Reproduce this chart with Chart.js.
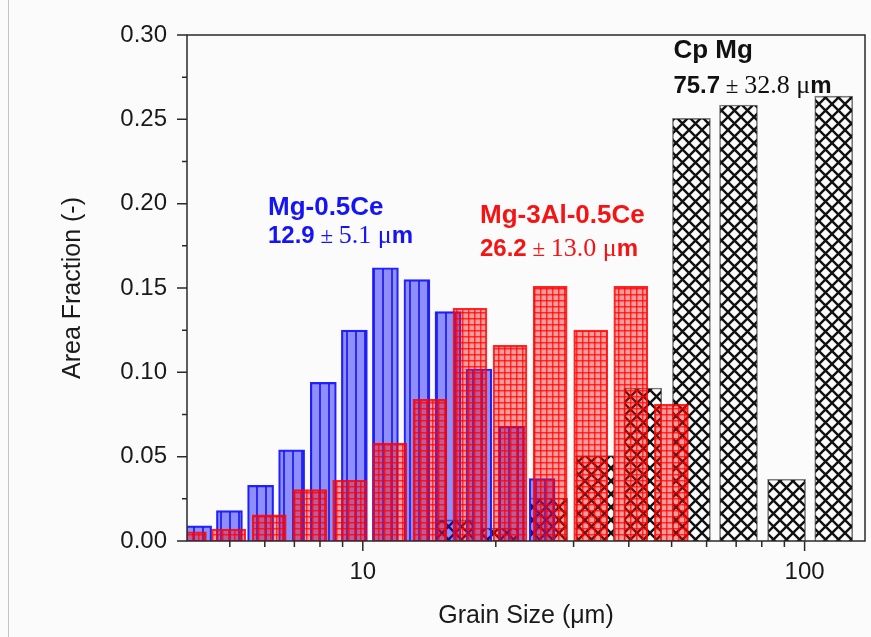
<!DOCTYPE html>
<html>
<head>
<meta charset="utf-8">
<script src="https://cdn.jsdelivr.net/npm/chart.js@4/dist/chart.umd.min.js"></script>
<style>
    body { margin: 0; background: #fbfbfb; }
    #caja { position: relative; width: 871px; height: 637px; }
    #caja::before { content: ""; position: absolute; left: 8px; top: 0; bottom: 0; border-left: 1px solid #c4c4c4; }
</style>
</head>
<body>
<div id="caja"><canvas id="grafica"></canvas></div>
<script>
// tamaño de grano (um) y fracción de área
const tamCe = [4.25, 4.99, 5.87, 6.9, 8.14, 9.57, 11.25, 13.26, 15.59, 18.32, 21.71, 25.46];
const fracCe = [0.009, 0.018, 0.033, 0.054, 0.094, 0.125, 0.162, 0.155, 0.136, 0.102, 0.068, 0.037];

const tamAlCe = [4.05, 4.97, 6.14, 7.59, 9.34, 11.51, 14.19, 17.48, 21.54, 26.55, 32.8, 40.42, 49.94];
const fracAlCe = [0.0055, 0.007, 0.0155, 0.0305, 0.036, 0.058, 0.084, 0.138, 0.116, 0.151, 0.125, 0.151, 0.081];

const tamCp = [16.08, 20.39, 26.34, 33.58, 43.03, 55.44, 70.86, 91.03, 116.4];
const fracCp = [0.0125, 0.0077, 0.0255, 0.0506, 0.0907, 0.2506, 0.2585, 0.0366, 0.2638];

const xEtiquetas = [10, 100];
const xMenores = [5, 6, 7, 8, 9, 20, 30, 40, 50, 60, 70, 80, 90];
const yEtiquetas = [0, 0.05, 0.10, 0.15, 0.20, 0.25, 0.30];
const yMenores = [0.025, 0.075, 0.125, 0.175, 0.225, 0.275];

const textos = [
    { titulo: "Mg-0.5Ce", media: "12.9", desv: "5.1", color: "#1414f5", x: 6.1, y: 0.1933, y2: 0.1767 },
    { titulo: "Mg-3Al-0.5Ce", media: "26.2", desv: "13.0", color: "#f51414", x: 18.42, y: 0.1885, y2: 0.169 },
    { titulo: "Cp Mg", media: "75.7", desv: "32.8", color: "#111111", x: 50.47, y: 0.2864, y2: 0.2656 }
];

const SANS = "'Liberation Sans', Arial, sans-serif";
const SERIF = "'Liberation Serif', 'Times New Roman', serif";

function patron(lado, dibujar) {
    const c = document.createElement("canvas");
    c.width = lado;
    c.height = lado;
    const g = c.getContext("2d");
    dibujar(g, lado);
    return g.createPattern(c, "repeat");
}

const rayasAzules = patron(9, (g, n) => {
    g.fillStyle = "rgba(20,20,255,0.47)";
    g.fillRect(0, 0, n, n);
    g.fillStyle = "rgba(20,20,235,0.8)";
    g.fillRect(4, 0, 2, n);
});

const cuadrosRojos = patron(6, (g, n) => {
    g.fillStyle = "rgba(255,20,20,0.42)";
    g.fillRect(0, 0, n, n);
    g.fillStyle = "rgba(255,0,0,0.72)";
    g.fillRect(0, 0, n, 1.5);
    g.fillRect(0, 0, 1.5, n);
});

const cruces = patron(13, (g, n) => {
    g.strokeStyle = "#111";
    g.lineWidth = 2.4;
    g.beginPath();
    g.moveTo(-1, -1); g.lineTo(n + 1, n + 1);
    g.moveTo(-1, n + 1); g.lineTo(n + 1, -1);
    g.stroke();
});

function puntos(xs, ys) {
    return xs.map((x, i) => ({ x: x, y: ys[i] }));
}

const marco = {
    id: "marco",
    afterDraw(chart) {
        const { ctx, chartArea: a, scales: { x, y } } = chart;
        ctx.save();
        ctx.strokeStyle = "#2a2a2a";
        ctx.lineWidth = 1.5;
        ctx.strokeRect(a.left, a.top, a.right - a.left, a.bottom - a.top);

        ctx.beginPath();
        for (const v of yEtiquetas) {
            const p = y.getPixelForValue(v);
            ctx.moveTo(a.left - 10, p); ctx.lineTo(a.left, p);
        }
        for (const v of yMenores) {
            const p = y.getPixelForValue(v);
            ctx.moveTo(a.left - 5, p); ctx.lineTo(a.left, p);
        }
        for (const v of xEtiquetas) {
            const p = x.getPixelForValue(v);
            ctx.moveTo(p, a.bottom); ctx.lineTo(p, a.bottom + 10);
        }
        for (const v of xMenores) {
            const p = x.getPixelForValue(v);
            ctx.moveTo(p, a.bottom); ctx.lineTo(p, a.bottom + 6);
        }
        ctx.stroke();

        ctx.textBaseline = "alphabetic";
        for (const t of textos) {
            let px = x.getPixelForValue(t.x);
            ctx.fillStyle = t.color;
            ctx.font = "bold 26px " + SANS;
            ctx.fillText(t.titulo, px, y.getPixelForValue(t.y));

            const partes = [
                [t.media, "bold 24px " + SANS],
                [" \u00b1 ", "23px " + SERIF],
                [t.desv + " ", "26px " + SERIF],
                ["\u03bc", "26px " + SERIF],
                ["m", "bold 24px " + SANS]
            ];
            const py = y.getPixelForValue(t.y2);
            for (const [s, f] of partes) {
                ctx.font = f;
                ctx.fillText(s, px, py);
                px += ctx.measureText(s).width;
            }
        }
        ctx.restore();
    }
};

new Chart(document.querySelector("#grafica"), {
    type: "bar",
    data: {
        datasets: [
            {
                label: "Mg-3Al-0.5Ce",
                data: puntos(tamAlCe, fracAlCe),
                backgroundColor: cuadrosRojos,
                borderColor: "rgba(255,0,0,0.85)",
                borderWidth: 1.5,
                barThickness: 34
            },
            {
                label: "Mg-0.5Ce",
                data: puntos(tamCe, fracCe),
                backgroundColor: rayasAzules,
                borderColor: "#2222ff",
                borderWidth: 1.5,
                barThickness: 26
            },
            {
                label: "Cp Mg",
                data: puntos(tamCp, fracCp),
                backgroundColor: cruces,
                borderColor: "#7a7a7a",
                borderWidth: 1,
                barThickness: 38
            }
        ]
    },
    options: {
        responsive: true,
        maintainAspectRatio: false,
        animation: false,
        layout: { padding: { top: 35, right: 6, left: 0, bottom: 0 } },
        plugins: { legend: { display: false }, tooltip: { enabled: false } },
        datasets: { bar: { grouped: false } },
        scales: {
            x: {
                type: "logarithmic",
                min: 4,
                max: 137,
                offset: false,
                grid: { display: false, drawTicks: false, offset: false },
                border: { display: false },
                afterBuildTicks: (eje) => { eje.ticks = xEtiquetas.map((v) => ({ value: v })); },
                afterFit: (eje) => { eje.height = 96; },
                ticks: {
                    autoSkip: false,
                    maxRotation: 0,
                    padding: 17,
                    color: "#1a1a1a",
                    font: { family: SANS, size: 24 },
                    callback: (v) => String(v)
                },
                title: {
                    display: true,
                    text: "Grain Size (\u03bcm)",
                    color: "#1a1a1a",
                    font: { family: SANS, size: 25 },
                    padding: { top: 0, bottom: 6 }
                }
            },
            y: {
                min: 0,
                max: 0.3,
                grid: { display: false, drawTicks: false },
                border: { display: false },
                afterBuildTicks: (eje) => { eje.ticks = yEtiquetas.map((v) => ({ value: v })); },
                afterFit: (eje) => { eje.width = 187; },
                ticks: {
                    padding: 20,
                    color: "#1a1a1a",
                    font: { family: SANS, size: 24 },
                    callback: (v) => v.toFixed(2)
                },
                title: {
                    display: true,
                    text: "Area Fraction (-)",
                    color: "#1a1a1a",
                    font: { family: SANS, size: 25 },
                    padding: { top: 58, bottom: 0 }
                }
            }
        }
    },
    plugins: [marco]
});
</script>
</body>
</html>
